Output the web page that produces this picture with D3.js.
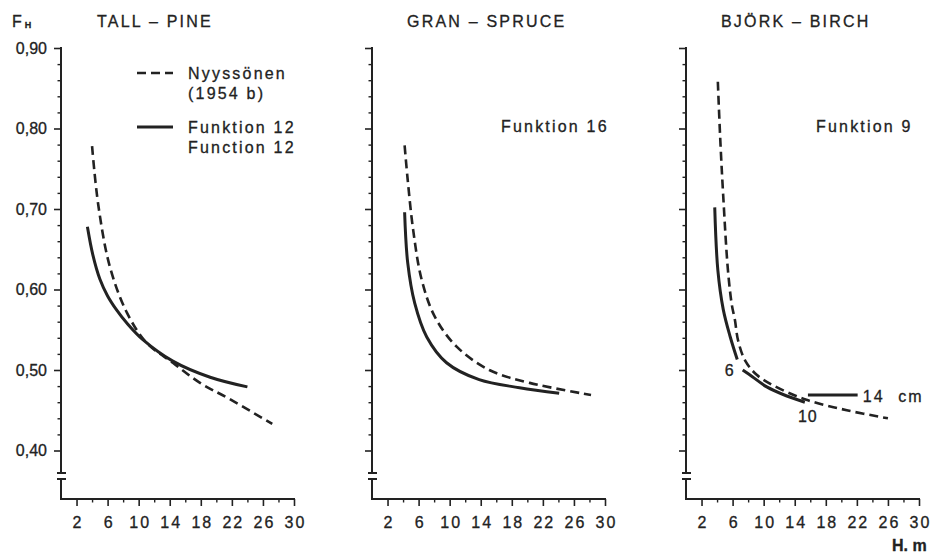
<!DOCTYPE html>
<html><head><meta charset="utf-8">
<script src="https://cdn.jsdelivr.net/npm/d3@7"></script>
<style>
body{margin:0;background:#fff}
svg{display:block}
text{font-family:"Liberation Sans",Arial,sans-serif;fill:#222;stroke:#222;stroke-width:0.3px}
</style></head><body>
<svg id="c" width="932" height="553"></svg>
<script>
// ---------- data ----------
const speciesTitles = ["TALL – PINE", "GRAN – SPRUCE", "BJÖRK – BIRCH"];
const functionLabels = ["", "Funktion 16", "Funktion 9"];
const xTickValues = [2, 6, 10, 14, 18, 22, 26, 30];
const xMinorTicks = [4, 8, 12, 16, 20, 24, 28];
const yMajorTicks = [0.40, 0.50, 0.60, 0.70, 0.80, 0.90];
const yTickLabels = ["0,40", "0,50", "0,60", "0,70", "0,80", "0,90"];
const yMinorTicks = [0.42, 0.44, 0.46, 0.48, 0.52, 0.54, 0.56, 0.58, 0.62, 0.64, 0.66, 0.68,
                     0.72, 0.74, 0.76, 0.78, 0.82, 0.84, 0.86, 0.88];

// Pine
const pineNyH = [4.0, 4.8, 6.3, 8.5, 11.0, 14.4, 17.9, 21.7, 27.2];
const pineNyF = [0.778, 0.705, 0.628, 0.571, 0.534, 0.509, 0.484, 0.464, 0.433];
const pineFnH = [3.4, 4.1, 5.0, 6.0, 7.2, 8.5, 10.5, 14.4, 19.2, 24.0];
const pineFnF = [0.678, 0.643, 0.613, 0.592, 0.574, 0.558, 0.538, 0.511, 0.491, 0.479];
// Spruce
const spruceNyH = [4.2, 4.6, 5.3, 6.4, 8.1, 10.9, 15.1, 20.3, 28.2];
const spruceNyF = [0.779, 0.736, 0.674, 0.612, 0.566, 0.529, 0.500, 0.484, 0.469];
const spruceFnH = [4.2, 4.6, 5.5, 7.05, 9.6, 13.8, 19.0, 24.1];
const spruceFnF = [0.696, 0.633, 0.583, 0.541, 0.509, 0.488, 0.478, 0.471];
// Birch
const birchNyH = [4.1, 4.4, 4.8, 5.4, 5.9, 6.3, 6.7, 7.6, 9.1, 11.2, 15.5, 20.7, 26.0];
const birchNyF = [0.858, 0.789, 0.715, 0.624, 0.581, 0.562, 0.537, 0.512, 0.494, 0.481, 0.463, 0.450, 0.440];
const birchD6H = [3.7, 4.1, 4.8, 5.7, 6.6];
const birchD6F = [0.702, 0.624, 0.575, 0.541, 0.513];
const birchD10H = [7.3, 8.5, 10.4, 12.9, 15.3];
const birchD10F = [0.500, 0.492, 0.479, 0.468, 0.460];
const birchD14H = [15.7, 22.1];
const birchD14F = [0.469, 0.469];
const diameterLabels = ["6", "10", "14  cm"];

const legendLabels = [["Nyyssönen", "(1954 b)"], ["Funktion 12", "Function 12"]];

// ---------- layout ----------
const svg = d3.select("#c");
const ink = "#222";
const panelX0 = [61, 372, 686];
const panelW = 233;
const axisY = 499, breakTop = 473, breakBot = 479;
const y = d3.scaleLinear().domain([0.40, 0.90]).range([450.5, 48]);
const zip = (a, b) => a.map((v, i) => [v, b[i]]);

const panelsData = [
  {dashed: [zip(pineNyH, pineNyF)], solid: [zip(pineFnH, pineFnF)]},
  {dashed: [zip(spruceNyH, spruceNyF)], solid: [zip(spruceFnH, spruceFnF)]},
  {dashed: [zip(birchNyH, birchNyF)], solid: [zip(birchD6H, birchD6F), zip(birchD10H, birchD10F), zip(birchD14H, birchD14F)]}
];

const titleX = [97, 407, 721];
const funcX = [0, 501, 816];

panelsData.forEach((p, i) => {
  const x0 = panelX0[i];
  const x = d3.scaleLinear().domain([0, 30]).range([x0, x0 + panelW]);
  const g = svg.append("g");

  // y axis line with break
  g.append("line").attr("x1", x0).attr("x2", x0).attr("y1", y(0.90) - 1).attr("y2", breakTop)
    .attr("stroke", ink).attr("stroke-width", 2);
  g.append("line").attr("x1", x0).attr("x2", x0).attr("y1", breakBot).attr("y2", axisY)
    .attr("stroke", ink).attr("stroke-width", 2);
  [breakTop, breakBot].forEach(by => {
    g.append("line").attr("x1", x0 - 4).attr("x2", x0 + 5).attr("y1", by).attr("y2", by)
      .attr("stroke", ink).attr("stroke-width", 2);
  });
  // x axis line
  g.append("line").attr("x1", x0 - 1).attr("x2", x0 + panelW + 1).attr("y1", axisY).attr("y2", axisY)
    .attr("stroke", ink).attr("stroke-width", 2);

  // y ticks
  const yAx = g.append("g").attr("transform", `translate(${x0},0)`)
    .call(d3.axisLeft(y).tickValues(yMajorTicks).tickSize(7).tickPadding(7)
      .tickFormat((d, k) => i === 0 ? yTickLabels[k] : ""));
  yAx.select(".domain").remove();
  yAx.selectAll("line").attr("stroke", ink).attr("stroke-width", 1.6);
  yAx.selectAll("text").attr("font-size", 16).attr("font-family", null).style("fill", ink);
  const yMin = g.append("g").attr("transform", `translate(${x0},0)`)
    .call(d3.axisLeft(y).tickValues(yMinorTicks).tickSize(3.5).tickFormat(""));
  yMin.select(".domain").remove();
  yMin.selectAll("line").attr("stroke", ink).attr("stroke-width", 1.4);

  // x ticks
  const xAx = g.append("g").attr("transform", `translate(0,${axisY})`)
    .call(d3.axisBottom(x).tickValues(xTickValues).tickSize(7).tickFormat(d3.format("d")));
  xAx.select(".domain").remove();
  xAx.selectAll("line").attr("stroke", ink).attr("stroke-width", 1.6);
  xAx.selectAll("text").attr("font-size", 16).attr("font-family", null).attr("y", 29).attr("dy", null)
    .attr("dx", 1).style("fill", ink).style("letter-spacing", "2px");
  const xMin = g.append("g").attr("transform", `translate(0,${axisY})`)
    .call(d3.axisBottom(x).tickValues(xMinorTicks).tickSize(3.5).tickFormat(""));
  xMin.select(".domain").remove();
  xMin.selectAll("line").attr("stroke", ink).attr("stroke-width", 1.4);

  // curves
  const line = d3.line().x(d => x(d[0])).y(d => y(d[1])).curve(d3.curveCatmullRom.alpha(0.5));
  p.dashed.forEach(s => g.append("path").attr("d", line(s)).attr("fill", "none")
    .attr("stroke", ink).attr("stroke-width", 2.6).attr("stroke-dasharray", "9,5"));
  p.solid.forEach(s => g.append("path").attr("d", line(s)).attr("fill", "none")
    .attr("stroke", ink).attr("stroke-width", 3));

  // titles
  g.append("text").attr("x", titleX[i]).attr("y", 27).attr("font-size", 16)
    .style("letter-spacing", "2.2px").text(speciesTitles[i]);
  if (functionLabels[i]) {
    g.append("text").attr("x", funcX[i]).attr("y", 132).attr("font-size", 16)
      .style("letter-spacing", "2.2px").text(functionLabels[i]);
  }

  if (i === 2) {
    // diameter labels placed next to curve ends
    g.append("text").attr("x", x(birchD6H[birchD6H.length - 1]) - 8).attr("y", 376)
      .attr("font-size", 16).attr("text-anchor", "middle").text(diameterLabels[0]);
    g.append("text").attr("x", x(birchD10H[birchD10H.length - 1]) + 3).attr("y", 422)
      .attr("font-size", 16).attr("text-anchor", "middle").style("letter-spacing", "1px").text(diameterLabels[1]);
    g.append("text").attr("x", x(birchD14H[1]) + 5).attr("y", 402)
      .attr("font-size", 16).style("letter-spacing", "2.2px").style("white-space", "pre").text(diameterLabels[2]);
  }
});

// y-axis title F_H
const fh = svg.append("text").attr("x", 12).attr("y", 27).attr("font-size", 16);
fh.append("tspan").text("F");
fh.append("tspan").attr("dx", 3).attr("dy", 1).attr("font-size", 9).attr("font-weight", "bold").text("H");

// x-axis title
svg.append("text").attr("x", 892).attr("y", 551).attr("font-size", 16).attr("font-weight", "bold").text("H. m");

// legend
const lg = svg.append("g");
lg.append("line").attr("x1", 137).attr("x2", 173).attr("y1", 73).attr("y2", 73)
  .attr("stroke", ink).attr("stroke-width", 2.6).attr("stroke-dasharray", "9,5");
lg.append("line").attr("x1", 137).attr("x2", 173).attr("y1", 127).attr("y2", 127)
  .attr("stroke", ink).attr("stroke-width", 3);
[[79, 99], [133, 153]].forEach((ys, k) => {
  ys.forEach((yy, j) => lg.append("text").attr("x", 188).attr("y", yy).attr("font-size", 16)
    .style("letter-spacing", "2.2px").text(legendLabels[k][j]));
});
</script>
</body></html>
